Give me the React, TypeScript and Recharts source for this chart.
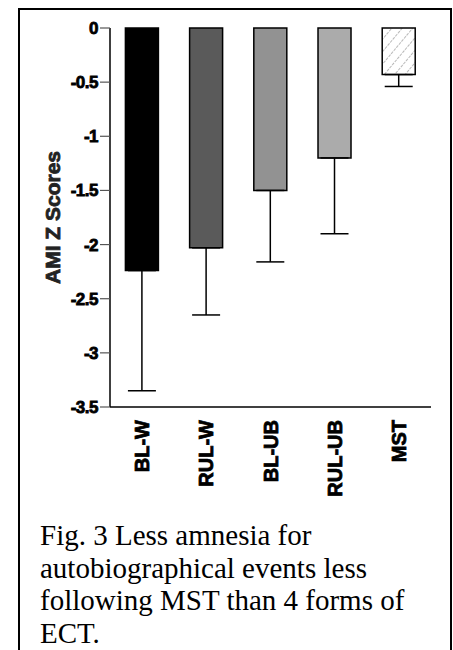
import React from 'react';
import { BarChart, Bar, XAxis, YAxis, Cell, ErrorBar } from 'recharts';

const categories = ['BL-W', 'RUL-W', 'BL-UB', 'RUL-UB', 'MST'];
const means = [-2.24, -2.03, -1.5, -1.2, -0.43];
const errors = [1.11, 0.62, 0.66, 0.7, 0.11];
const yTicks = [0, -0.5, -1, -1.5, -2, -2.5, -3, -3.5];
const captionLines = [
    'Fig. 3 Less amnesia for',
    'autobiographical events less',
    'following MST than 4 forms of',
    'ECT.',
];

const FILLS = ['#000000', '#5a5a5a', '#929292', '#ababab', 'url(#hatch)'];
const SANS = '"Liberation Sans", Arial, sans-serif';

// one-sided (downward) error bars: [lower, upper]
const data = categories.map((name, i) => ({ name, value: means[i], err: [errors[i], 0] }));

const CategoryTick = (props: any) => {
    const { x, y, payload } = props;
    return (
        <text
            transform={`translate(${x + 7},${y + 5}) rotate(-90)`}
            textAnchor="end"
            fontFamily={SANS}
            fontWeight="bold"
            fontSize={20}
            fill="#000"
            stroke="#000"
            strokeWidth={0.8}
        >
            {payload.value}
        </text>
    );
};

const App: React.FC = () => {
    return (
        <div
            style={{
                position: 'fixed',
                left: 18,
                right: 1,
                top: 8,
                bottom: 0,
                border: '2px solid #000',
                borderBottom: 'none',
                background: '#fff',
                overflow: 'hidden',
            }}
        >
            <div style={{ position: 'absolute', left: 0, top: 0 }}>
                <BarChart
                    width={430}
                    height={497}
                    data={data}
                    margin={{ top: 18, right: 19, bottom: 0, left: 0 }}
                    barCategoryGap="24%"
                >
                    <defs>
                        <pattern id="hatch" patternUnits="userSpaceOnUse" width="8" height="8" patternTransform="rotate(40)">
                            <rect width="8" height="8" fill="#fff" />
                            <line x1="0" y1="0" x2="0" y2="8" stroke="#8a8a8a" strokeWidth={1.2} strokeDasharray="3 1" />
                        </pattern>
                    </defs>
                    <YAxis
                        width={90}
                        domain={[-3.5, 0]}
                        ticks={yTicks}
                        interval={0}
                        tickSize={10}
                        tickLine={{ stroke: '#555', strokeWidth: 1.2 }}
                        axisLine={{ stroke: '#000', strokeWidth: 1.5 }}
                        tick={{ fontFamily: SANS, fontWeight: 'bold', fontSize: 17, fill: '#000', stroke: '#000', strokeWidth: 0.8, letterSpacing: -0.5 }}
                        label={{
                            value: 'AMI Z Scores',
                            angle: -90,
                            position: 'center',
                            dx: -12,
                            style: { fontFamily: SANS, fontWeight: 'bold', fontSize: 21, fill: '#222', stroke: '#222', strokeWidth: 0.8 },
                        }}
                    />
                    <XAxis
                        dataKey="name"
                        height={100}
                        interval={0}
                        tickLine={false}
                        axisLine={{ stroke: '#000', strokeWidth: 1.5 }}
                        tick={<CategoryTick />}
                    />
                    <Bar dataKey="value" stroke="#000" strokeWidth={1.5} isAnimationActive={false}>
                        {data.map((d, i) => (
                            <Cell key={d.name} fill={FILLS[i]} />
                        ))}
                        <ErrorBar dataKey="err" width={14} stroke="#000" strokeWidth={1.5} isAnimationActive={false} />
                    </Bar>
                    <XAxis
                        xAxisId="top"
                        dataKey="name"
                        orientation="top"
                        mirror
                        height={0}
                        interval={0}
                        tick={false}
                        tickSize={9}
                        tickLine={{ stroke: '#222', strokeWidth: 1.2 }}
                        axisLine={{ stroke: '#000', strokeWidth: 1.5 }}
                    />
                </BarChart>
            </div>
            <div
                style={{
                    position: 'absolute',
                    left: 20,
                    top: 509,
                    fontFamily: '"Liberation Serif", "Times New Roman", serif',
                    fontSize: 29,
                    lineHeight: '32.7px',
                    color: '#000',
                    whiteSpace: 'nowrap',
                }}
            >
                {captionLines.map((line) => (
                    <div key={line}>{line}</div>
                ))}
            </div>
        </div>
    );
};

export default App;
